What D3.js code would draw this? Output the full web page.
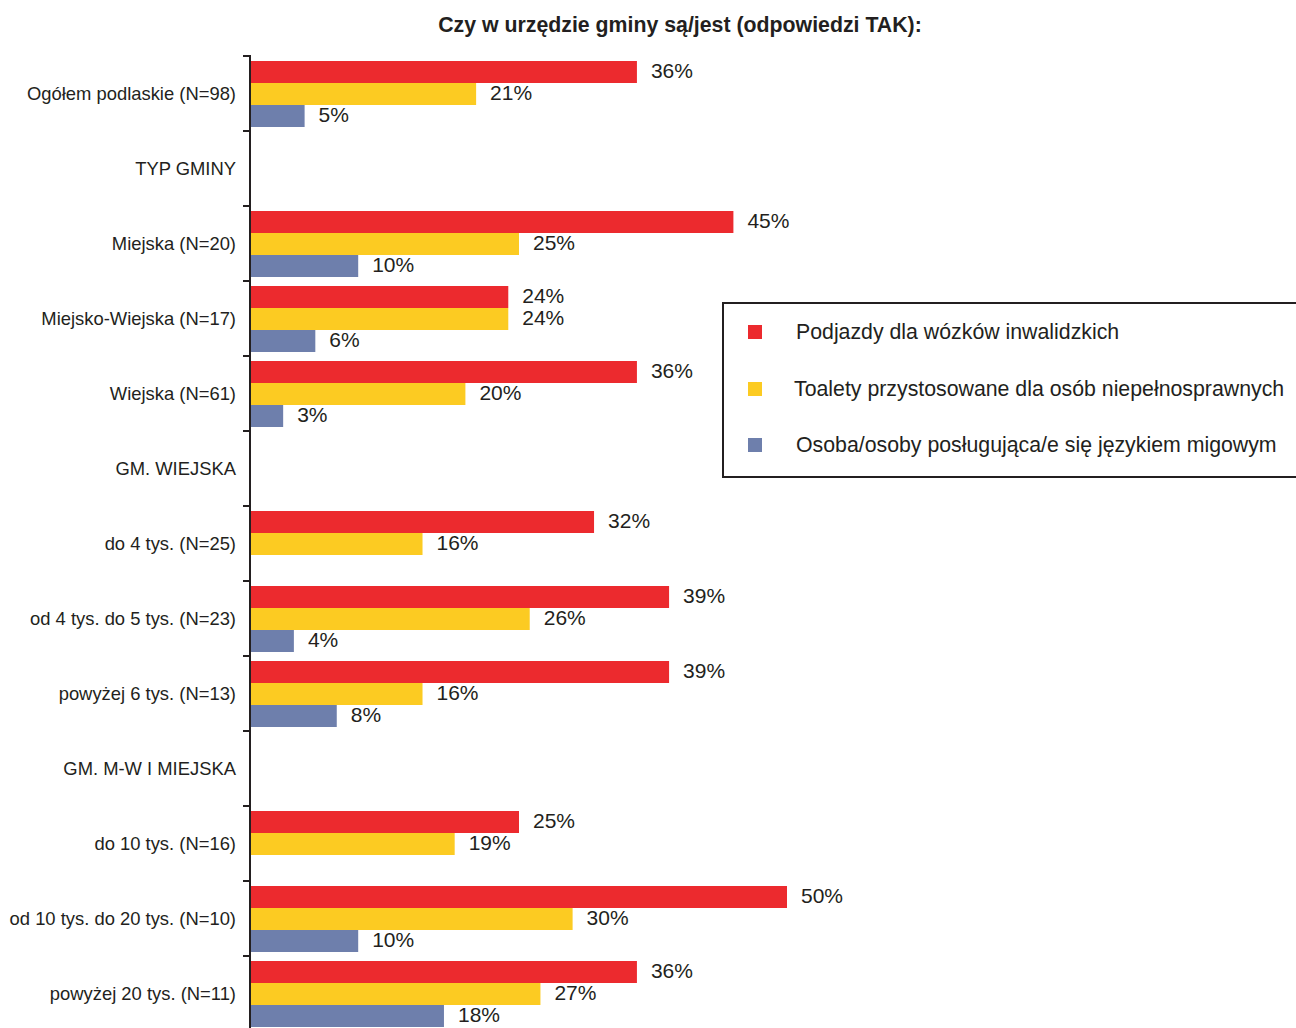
<html>
<script src="https://d3js.org/d3.v7.min.js"></script>
<style>
    body { margin: 0; background: #fff; }
    svg { font-family: "Liberation Sans", Arial, sans-serif; }
    .cat { font-size: 18.4px; fill: #231f20; text-anchor: end; }
    .val { font-size: 21px; fill: #231f20; }
    .axis line, .axis path { stroke: #231f20; stroke-width: 2px; }
    .legend text { font-size: 21.3px; fill: #231f20; }
</style>
<svg width=1296 height=1028></svg>
<script>
    let categories = ['Ogółem podlaskie (N=98)', 'TYP GMINY', 'Miejska (N=20)', 'Miejsko-Wiejska (N=17)',
        'Wiejska (N=61)', 'GM. WIEJSKA', 'do 4 tys. (N=25)', 'od 4 tys. do 5 tys. (N=23)',
        'powyżej 6 tys. (N=13)', 'GM. M-W I MIEJSKA', 'do 10 tys. (N=16)',
        'od 10 tys. do 20 tys. (N=10)', 'powyżej 20 tys. (N=11)'];
    let seriesNames = ['Podjazdy dla wózków inwalidzkich',
        'Toalety przystosowane dla osób niepełnosprawnych',
        'Osoba/osoby posługująca/e się językiem migowym'];
    let podjazdy = [36, null, 45, 24, 36, null, 32, 39, 39, null, 25, 50, 36];
    let toalety  = [21, null, 25, 24, 20, null, 16, 26, 16, null, 19, 30, 27];
    let migowy   = [5, null, 10, 6, 3, null, null, 4, 8, null, null, 10, 18];
    let colors = ['#ec2a2e', '#fccb22', '#6e7fac'];

    let svg = d3.select('svg');
    let x0 = 250;

    let y = d3.scaleBand().domain(categories).range([56, 56 + 75 * categories.length]);
    let x = d3.scaleLinear().domain([0, 50]).range([x0, 786]);
    let ySub = d3.scaleBand().domain([0, 1, 2]).range([5, 71]);

    svg.append('text')
        .attr('x', 680).attr('y', 32)
        .attr('text-anchor', 'middle')
        .style('font-size', '21.3px').style('font-weight', 'bold').style('fill', '#231f20')
        .text('Czy w urzędzie gminy są/jest (odpowiedzi TAK):');

    let series = [podjazdy, toalety, migowy];
    series.forEach((vals, s) => {
        let g = svg.append('g');
        let data = categories.map((c, i) => ({ c: c, v: vals[i] })).filter(d => d.v !== null);
        g.selectAll('rect').data(data).enter().append('rect')
            .attr('x', x0 + 1)
            .attr('y', d => y(d.c) + ySub(s))
            .attr('width', d => x(d.v) - x0)
            .attr('height', ySub.bandwidth())
            .attr('fill', colors[s]);
        g.selectAll('text').data(data).enter().append('text')
            .attr('class', 'val')
            .attr('x', d => x(d.v) + 15)
            .attr('y', d => y(d.c) + ySub(s) + ySub.bandwidth() / 2 + 6)
            .text(d => d.v + '%');
    });

    // axis line + ticks at band boundaries
    let axis = svg.append('g').attr('class', 'axis');
    axis.append('line').attr('x1', x0).attr('x2', x0).attr('y1', 55).attr('y2', 1028);
    axis.selectAll('.tk').data(d3.range(categories.length + 1)).enter().append('line')
        .attr('x1', x0 - 7).attr('x2', x0)
        .attr('y1', i => 56 + 75 * i).attr('y2', i => 56 + 75 * i);

    svg.selectAll('.cat').data(categories).enter().append('text')
        .attr('class', 'cat')
        .attr('x', 236)
        .attr('y', d => y(d) + y.bandwidth() / 2 + 6)
        .text(d => d);

    let legend = svg.append('g').attr('class', 'legend');
    legend.append('rect')
        .attr('x', 723).attr('y', 303).attr('width', 600).attr('height', 174)
        .attr('fill', 'none').attr('stroke', '#231f20').attr('stroke-width', 2);
    let ly = [332, 389, 445];
    let lx = [796, 794, 796];
    seriesNames.forEach((n, i) => {
        legend.append('rect').attr('x', 748).attr('y', ly[i] - 7).attr('width', 14).attr('height', 14)
            .attr('fill', colors[i]);
        legend.append('text').attr('x', lx[i]).attr('y', ly[i] + 7).text(n);
    });
</script>
</html>
